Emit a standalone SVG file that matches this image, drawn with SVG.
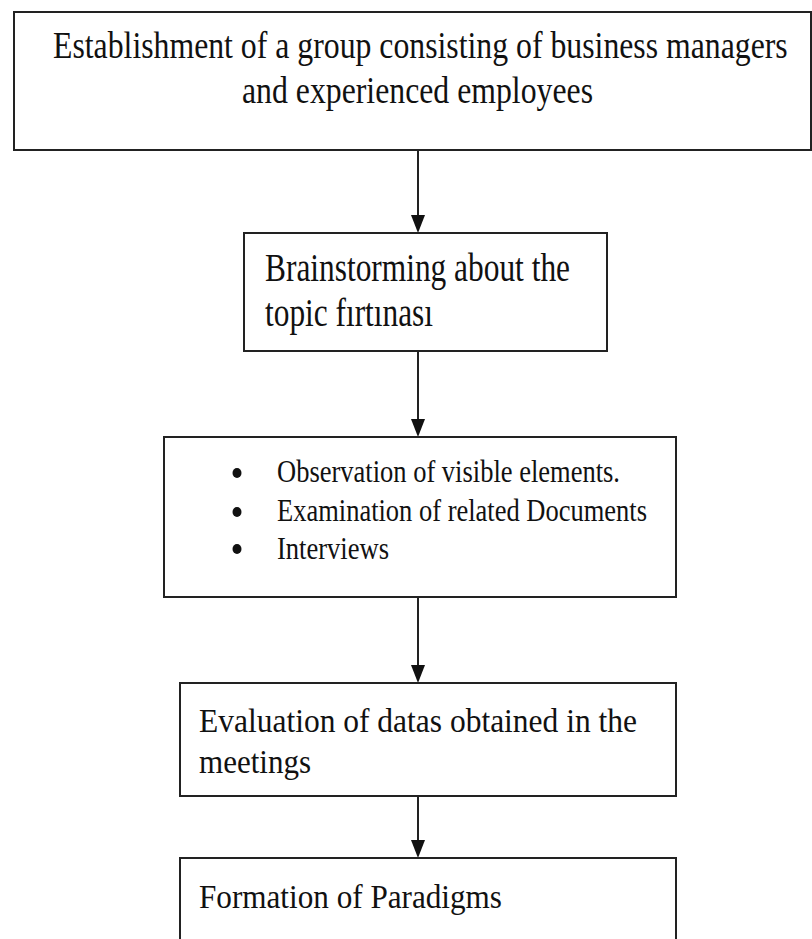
<svg xmlns="http://www.w3.org/2000/svg" width="812" height="939" viewBox="0 0 812 939">
<style>
.box{fill:#fff;stroke:#222;stroke-width:2}
.t{font-family:"Liberation Serif","Times New Roman",serif;fill:#111}
.c{stroke:#222;stroke-width:2;fill:none}
.h{fill:#111}
.b{fill:#111}
</style>
<rect width="812" height="939" fill="#fff"/>
<g id="connectors">
<line class="c" x1="418" y1="151" x2="418" y2="216"/>
<polygon class="h" points="411,215 425,215 418,233"/>
<line class="c" x1="418" y1="351" x2="418" y2="420"/>
<polygon class="h" points="411,419 425,419 418,437"/>
<line class="c" x1="418" y1="597" x2="418" y2="666"/>
<polygon class="h" points="411,665 425,665 418,683"/>
<line class="c" x1="418" y1="796" x2="418" y2="841"/>
<polygon class="h" points="411,840 425,840 418,858"/>
</g>
<g id="n1">
<rect class="box" x="14" y="12" width="797" height="138"/>
<text class="t" transform="translate(53,58) scale(0.79,1)" x="0" y="0" font-size="38" textLength="930" lengthAdjust="spacingAndGlyphs">Establishment of a group consisting of business managers</text>
<text class="t" x="242" y="103" font-size="38" textLength="351" lengthAdjust="spacingAndGlyphs">and experienced employees</text>
</g>
<g id="n2">
<rect class="box" x="244" y="233" width="363" height="118"/>
<text class="t" x="265" y="281" font-size="39" textLength="305" lengthAdjust="spacingAndGlyphs">Brainstorming about the</text>
<text class="t" x="265" y="326" font-size="39" textLength="168" lengthAdjust="spacingAndGlyphs">topic fırtınası</text>
</g>
<g id="n3">
<rect class="box" x="164" y="437" width="512" height="160"/>
<ellipse class="b" cx="237" cy="473" rx="4.5" ry="5"/>
<ellipse class="b" cx="237" cy="512" rx="4.5" ry="5"/>
<ellipse class="b" cx="237" cy="549" rx="4.5" ry="5"/>
<text class="t" x="277" y="482" font-size="31" textLength="343" lengthAdjust="spacingAndGlyphs">Observation of visible elements.</text>
<text class="t" x="277" y="521" font-size="31" textLength="370" lengthAdjust="spacingAndGlyphs">Examination of related Documents</text>
<text class="t" x="277" y="559" font-size="31" textLength="112" lengthAdjust="spacingAndGlyphs">Interviews</text>
</g>
<g id="n4">
<rect class="box" x="180" y="683" width="496" height="113"/>
<text class="t" x="199" y="732" font-size="33" textLength="438" lengthAdjust="spacingAndGlyphs">Evaluation of datas obtained in the</text>
<text class="t" x="199" y="773" font-size="33" textLength="112" lengthAdjust="spacingAndGlyphs">meetings</text>
</g>
<g id="n5">
<rect class="box" x="180" y="858" width="496" height="100"/>
<text class="t" x="199" y="908" font-size="33" textLength="303" lengthAdjust="spacingAndGlyphs">Formation of Paradigms</text>
</g>
</svg>
